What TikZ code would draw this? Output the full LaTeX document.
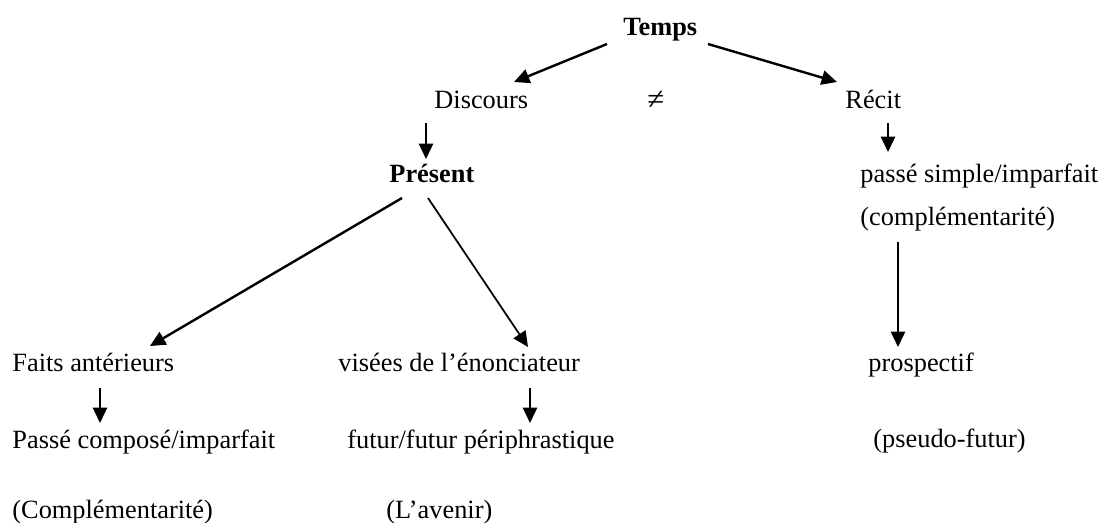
\documentclass[tikz,border=0pt]{standalone}
\usepackage{fontspec}
\setmainfont{Liberation Serif}
\usetikzlibrary{arrows.meta, calc}

\tikzset{
    lbl/.style={anchor=base west, inner sep=0pt, font=\fontsize{12}{14}\selectfont},
    strong/.style={lbl, font=\fontsize{12}{14}\selectfont\bfseries},
    arr/.style={-{Triangle[length=7pt, width=6.5pt]}, line width=.8pt},
    thickarr/.style={arr, line width=1.1pt},
}

\begin{document}
\begin{tikzpicture}[x=0.016cm, y=-0.016cm]
    \useasboundingbox (0, 0) rectangle (1103, 522);

    \node[strong] (temps) at (623, 35) {Temps};
    \node[lbl] (discours) at (434, 108) {Discours};
    \node[lbl, font=\fontsize{14}{16}\selectfont] (neq) at (647, 109) {≠};
    \node[lbl] (recit) at (845, 108) {Récit};

    \node[strong] (present) at (389, 182) {Présent};
    \node[lbl] (passesimple) at (860, 182) {passé simple/imparfait};
    \node[lbl] (compl) at (860, 225) {(complémentarité)};

    \node[lbl] (faits) at (12, 371) {Faits antérieurs};
    \node[lbl] (visees) at (338, 371) {visées de l’énonciateur};
    \node[lbl] (prosp) at (868, 371) {prospectif};

    \node[lbl] (pcompose) at (12, 448) {Passé composé/imparfait};
    \node[lbl] (futur) at (347, 448) {futur/futur périphrastique};
    \node[lbl] (pseudo) at (873, 447) {(pseudo-futur)};

    \node[lbl] (complbis) at (12, 518) {(Complémentarité)};
    \node[lbl] (avenir) at (386, 518) {(L’avenir)};

    \draw[thickarr] ($(temps.base west)+(-16, 9)$) -- ($(discours.base west)+(80, -26)$);
    \draw[thickarr] ($(temps.base west)+(85, 9)$) -- ($(recit.base west)+(-8, -26)$);
    \draw[arr] ($(discours.base west)+(-8, 15)$) -- ($(present.base west)+(37, -23)$);
    \draw[arr] ($(recit.base west)+(43, 15)$) -- ($(passesimple.base west)+(28, -30)$);

    \draw[thickarr] ($(present.base west)+(13, 16)$) -- ($(faits.base west)+(138, -25)$);
    \draw[arr] ($(present.base west)+(39, 16)$) -- ($(visees.base west)+(190, -24)$);
    \draw[arr] ($(compl.base west)+(38, 17)$) -- ($(prosp.base west)+(30, -24)$);

    \draw[arr] ($(faits.base west)+(88, 17)$) -- ($(pcompose.base west)+(88, -25)$);
    \draw[arr] ($(visees.base west)+(192, 17)$) -- ($(futur.base west)+(183, -25)$);
\end{tikzpicture}
\end{document}
